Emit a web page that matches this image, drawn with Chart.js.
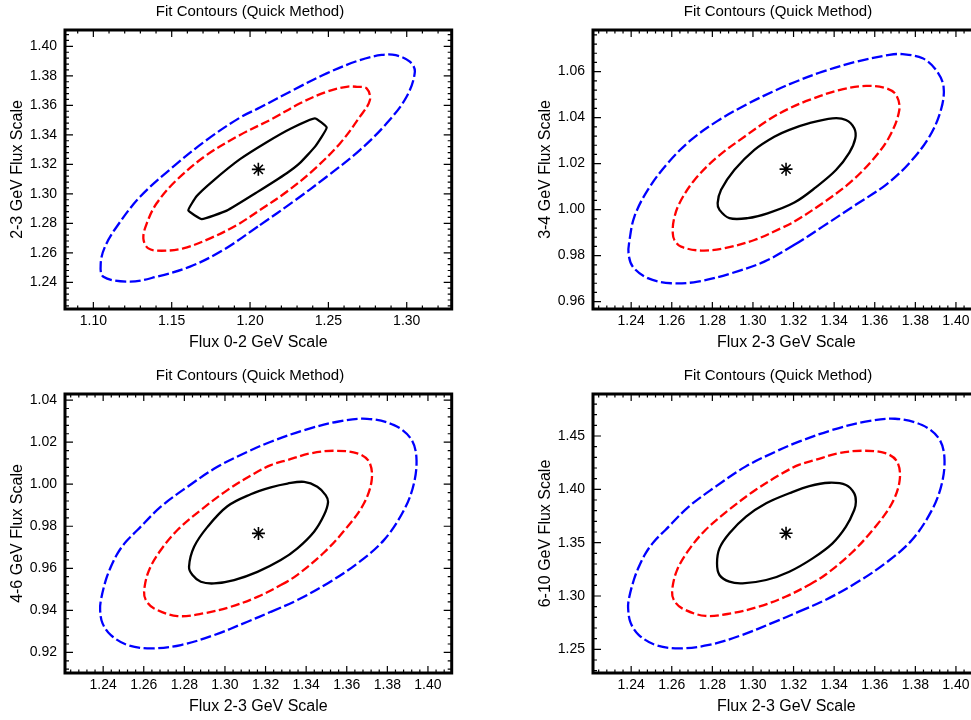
<!DOCTYPE html>
<html>
<head>
<meta charset="utf-8">
<title>Fit Contours (Quick Method)</title>
<script src="https://cdn.jsdelivr.net/npm/chart.js@4.4.1/dist/chart.umd.min.js"></script>
<style>
  html, body { margin: 0; padding: 0; background: #fff; overflow: hidden; width: 971px; height: 720px; }
  body { position: relative; }
  canvas.pad { position: absolute; }
</style>
</head>
<body>
<canvas id="pad1" class="pad" width="500" height="364" style="left:0px;top:0px"></canvas>
<canvas id="pad2" class="pad" width="500" height="364" style="left:528px;top:0px"></canvas>
<canvas id="pad3" class="pad" width="500" height="364" style="left:0px;top:364px"></canvas>
<canvas id="pad4" class="pad" width="500" height="364" style="left:528px;top:364px"></canvas>
<script>
const FONT = "'Liberation Sans', Arial, Helvetica, sans-serif";
const plotTitle = 'Fit Contours (Quick Method)';

// ---- Pad 1: 2-3 GeV vs 0-2 GeV ----
const p1XTitle = 'Flux 0-2 GeV Scale';
const p1YTitle = '2-3 GeV Flux Scale';
const p1XRange = [1.0819, 1.3287];
const p1YRange = [1.2219, 1.4111];
const p1XTicks = [1.10, 1.15, 1.20, 1.25, 1.30];
const p1YTicks = [1.24, 1.26, 1.28, 1.30, 1.32, 1.34, 1.36, 1.38, 1.40];
const p1Best = [1.2053, 1.3166];
const p1BlueX = [1.2063, 1.2276, 1.2489, 1.2701, 1.2872, 1.2999, 1.3052, 1.3020, 1.2930, 1.2840, 1.2701, 1.2489, 1.2276, 1.2063, 1.1936, 1.1723, 1.1510, 1.1298, 1.1149, 1.1074, 1.1047, 1.1064, 1.1234, 1.1404, 1.1617, 1.1829];
const p1BlueY = [1.2788, 1.2947, 1.3116, 1.3297, 1.3478, 1.3658, 1.3828, 1.3896, 1.3940, 1.3942, 1.3907, 1.3817, 1.3704, 1.3585, 1.3517, 1.3365, 1.3184, 1.2980, 1.2777, 1.2641, 1.2529, 1.2438, 1.2404, 1.2438, 1.2506, 1.2619];
const p1RedX = [1.2063, 1.2234, 1.2404, 1.2574, 1.2701, 1.2765, 1.2744, 1.2680, 1.2616, 1.2489, 1.2319, 1.2148, 1.1936, 1.1723, 1.1532, 1.1404, 1.1341, 1.1319, 1.1351, 1.1436, 1.1574, 1.1745, 1.1915];
const p1RedY = [1.2890, 1.3014, 1.3161, 1.3342, 1.3523, 1.3636, 1.3715, 1.3726, 1.3726, 1.3692, 1.3614, 1.3512, 1.3399, 1.3263, 1.3094, 1.2936, 1.2800, 1.2698, 1.2630, 1.2614, 1.2630, 1.2698, 1.2788];
const p1BlackX = [1.1692, 1.1851, 1.2043, 1.2234, 1.2319, 1.2415, 1.2489, 1.2414, 1.2255, 1.2106, 1.1936, 1.1766, 1.1660, 1.1606];
const p1BlackY = [1.2829, 1.2886, 1.3010, 1.3140, 1.3210, 1.3320, 1.3449, 1.3512, 1.3440, 1.3350, 1.3235, 1.3090, 1.2985, 1.2888];

// ---- Pad 2: 3-4 GeV vs 2-3 GeV ----
const p2XTitle = 'Flux 2-3 GeV Scale';
const p2YTitle = '3-4 GeV Flux Scale';
const p2XRange = [1.2212, 1.4117];
const p2YRange = [0.9568, 1.0781];
const p2XTicks = [1.24, 1.26, 1.28, 1.30, 1.32, 1.34, 1.36, 1.38, 1.40];
const p2YTicks = [0.96, 0.98, 1.00, 1.02, 1.04, 1.06];
const p2Best = [1.3163, 1.0176];
const p2BlueX = [1.3204, 1.3343, 1.3508, 1.3655, 1.3770, 1.3869, 1.3926, 1.3939, 1.3902, 1.3836, 1.3737, 1.3672, 1.3508, 1.3343, 1.3204, 1.3105, 1.2974, 1.2826, 1.2695, 1.2580, 1.2482, 1.2416, 1.2392, 1.2387, 1.2408, 1.2482, 1.2597, 1.2728, 1.2892, 1.3056];
const p2BlueY = [0.9847, 0.9926, 1.0022, 1.0108, 1.0202, 1.0317, 1.0433, 1.0535, 1.0607, 1.0658, 1.0676, 1.0673, 1.0643, 1.0600, 1.0554, 1.0516, 1.0460, 1.0386, 1.0303, 1.0202, 1.0086, 0.9970, 0.9868, 0.9810, 0.9752, 0.9702, 0.9680, 0.9687, 0.9723, 0.9774];
const p2RedX = [1.3204, 1.3343, 1.3475, 1.3589, 1.3672, 1.3721, 1.3705, 1.3655, 1.3557, 1.3425, 1.3278, 1.3179, 1.3089, 1.2958, 1.2826, 1.2712, 1.2638, 1.2610, 1.2605, 1.2613, 1.2646, 1.2745, 1.2859, 1.3007, 1.3138];
const p2RedY = [0.9948, 1.0028, 1.0115, 1.0216, 1.0317, 1.0433, 1.0499, 1.0528, 1.0538, 1.0520, 1.0477, 1.0440, 1.0397, 1.0317, 1.0230, 1.0129, 1.0028, 0.9955, 0.9897, 0.9868, 0.9839, 0.9822, 0.9832, 0.9868, 0.9919];
const p2BlackX = [1.3204, 1.3311, 1.3409, 1.3475, 1.3504, 1.3499, 1.3458, 1.3392, 1.3278, 1.3179, 1.3105, 1.3007, 1.2909, 1.2843, 1.2826, 1.2835, 1.2884, 1.2974, 1.3072];
const p2BlackY = [1.0031, 1.0098, 1.0172, 1.0248, 1.0309, 1.0354, 1.0390, 1.0397, 1.0376, 1.0347, 1.0317, 1.0260, 1.0173, 1.0086, 1.0028, 0.9999, 0.9963, 0.9963, 0.9984];

// ---- Pad 3: 4-6 GeV vs 2-3 GeV ----
const p3XTitle = 'Flux 2-3 GeV Scale';
const p3YTitle = '4-6 GeV Flux Scale';
const p3XRange = [1.2212, 1.4117];
const p3YRange = [0.9102, 1.0429];
const p3XTicks = [1.24, 1.26, 1.28, 1.30, 1.32, 1.34, 1.36, 1.38, 1.40];
const p3YTicks = [0.92, 0.94, 0.96, 0.98, 1.00, 1.02, 1.04];
const p3Best = [1.3165, 0.9766];
const p3BlueX = [1.3226, 1.3357, 1.3505, 1.3652, 1.3783, 1.3882, 1.3931, 1.3943, 1.3915, 1.3833, 1.3700, 1.3554, 1.3390, 1.3226, 1.3111, 1.2963, 1.2816, 1.2684, 1.2569, 1.2512, 1.2471, 1.2438, 1.2413, 1.2389, 1.2385, 1.2397, 1.2438, 1.2520, 1.2635, 1.2783, 1.2946, 1.3111];
const p3BlueY = [0.9393, 0.9449, 0.9528, 0.9623, 0.9734, 0.9877, 1.0004, 1.0130, 1.0218, 1.0281, 1.0311, 1.0297, 1.0257, 1.0202, 1.0154, 1.0083, 0.9988, 0.9893, 0.9782, 0.9726, 0.9671, 0.9607, 0.9544, 0.9449, 0.9401, 0.9338, 0.9282, 0.9235, 0.9219, 0.9235, 0.9282, 0.9346];
const p3RedX = [1.3275, 1.3357, 1.3488, 1.3603, 1.3685, 1.3723, 1.3710, 1.3652, 1.3537, 1.3423, 1.3308, 1.3226, 1.3143, 1.3012, 1.2881, 1.2766, 1.2684, 1.2626, 1.2602, 1.2610, 1.2651, 1.2766, 1.2897, 1.3029, 1.3160];
const p3RedY = [0.9520, 0.9569, 0.9675, 0.9797, 0.9909, 1.0020, 1.0107, 1.0147, 1.0159, 1.0147, 1.0115, 1.0091, 1.0050, 0.9972, 0.9877, 0.9782, 0.9687, 0.9591, 0.9496, 0.9449, 0.9409, 0.9373, 0.9386, 0.9417, 0.9464];
const p3BlackX = [1.3275, 1.3357, 1.3439, 1.3488, 1.3508, 1.3496, 1.3455, 1.3390, 1.3308, 1.3226, 1.3127, 1.3012, 1.2914, 1.2848, 1.2823, 1.2840, 1.2881, 1.2946, 1.3045, 1.3160];
const p3BlackY = [0.9639, 0.9695, 0.9774, 0.9853, 0.9916, 0.9948, 0.9988, 1.0011, 1.0003, 0.9985, 0.9952, 0.9895, 0.9797, 0.9702, 0.9607, 0.9568, 0.9536, 0.9528, 0.9544, 0.9583];

// ---- Pad 4: 6-10 GeV vs 2-3 GeV ----
const p4XTitle = 'Flux 2-3 GeV Scale';
const p4YTitle = '6-10 GeV Flux Scale';
const p4XRange = [1.2212, 1.4117];
const p4YRange = [1.2278, 1.4894];
const p4XTicks = [1.24, 1.26, 1.28, 1.30, 1.32, 1.34, 1.36, 1.38, 1.40];
const p4YTicks = [1.25, 1.30, 1.35, 1.40, 1.45];
const p4Best = [1.3163, 1.3588];
const p4BlueX = [1.3226, 1.3357, 1.3505, 1.3652, 1.3783, 1.3882, 1.3931, 1.3943, 1.3915, 1.3833, 1.3700, 1.3554, 1.3390, 1.3226, 1.3111, 1.2963, 1.2816, 1.2684, 1.2569, 1.2512, 1.2471, 1.2438, 1.2413, 1.2389, 1.2385, 1.2397, 1.2438, 1.2520, 1.2635, 1.2783, 1.2946, 1.3111];
const p4BlueY = [1.2853, 1.2963, 1.3119, 1.3306, 1.3525, 1.3807, 1.4057, 1.4305, 1.4479, 1.4603, 1.4662, 1.4634, 1.4556, 1.4447, 1.4353, 1.4213, 1.4025, 1.3838, 1.3619, 1.3509, 1.3400, 1.3274, 1.3150, 1.2975, 1.2885, 1.2750, 1.2634, 1.2541, 1.2509, 1.2541, 1.2634, 1.2760];
const p4RedX = [1.3275, 1.3357, 1.3488, 1.3603, 1.3685, 1.3723, 1.3710, 1.3652, 1.3537, 1.3423, 1.3308, 1.3226, 1.3143, 1.3012, 1.2881, 1.2766, 1.2684, 1.2626, 1.2602, 1.2610, 1.2651, 1.2766, 1.2897, 1.3029, 1.3160];
const p4RedY = [1.3103, 1.3199, 1.3408, 1.3649, 1.3870, 1.4088, 1.4260, 1.4339, 1.4362, 1.4339, 1.4276, 1.4229, 1.4148, 1.3994, 1.3807, 1.3619, 1.3432, 1.3243, 1.3056, 1.2963, 1.2884, 1.2813, 1.2839, 1.2900, 1.2993];
const p4BlackX = [1.3179, 1.3294, 1.3392, 1.3458, 1.3499, 1.3507, 1.3499, 1.3458, 1.3376, 1.3278, 1.3179, 1.3065, 1.2966, 1.2884, 1.2835, 1.2823, 1.2835, 1.2884, 1.2949, 1.3065];
const p4BlackY = [1.3228, 1.3353, 1.3494, 1.3650, 1.3806, 1.3884, 1.3963, 1.4041, 1.4062, 1.4031, 1.3963, 1.3869, 1.3744, 1.3588, 1.3447, 1.3307, 1.3197, 1.3134, 1.3119, 1.3150];

// Turn x/y lists into a closed loop. One extra point is wrapped on each
// end so the spline has neighbours everywhere; those two end segments are hidden.
function loop(xs, ys) {
  const pts = xs.map((x, i) => ({ x: x, y: ys[i] }));
  return [pts[pts.length - 1], ...pts, pts[0], pts[1]];
}

// Major ticks come from the lists, minor ticks split each step in five
function tickMarks(scale, majors) {
  const step = (majors[1] - majors[0]) / 5;
  const marks = [];
  let n = Math.ceil((scale.min - majors[0]) / step - 1e-6);
  for (;;) {
    const v = majors[0] + n * step;
    if (v > scale.max + 1e-9) break;
    marks.push({ value: v, major: Math.abs(n % 5) === 0 });
    n++;
  }
  return marks;
}

// Frame with inward ticks on all four sides, like a ROOT pad
const frameTicks = {
  id: 'frameTicks',
  afterDatasetsDraw(chart, args, opts) {
    const { ctx, chartArea: a } = chart;
    const xs = chart.scales.x;
    const ys = chart.scales.y;
    ctx.save();
    ctx.strokeStyle = '#000';
    ctx.lineWidth = 1.2;
    ctx.beginPath();
    tickMarks(xs, opts.xMajor).forEach(m => {
      const px = xs.getPixelForValue(m.value);
      const len = m.major ? 7 : 3.5;
      ctx.moveTo(px, a.bottom); ctx.lineTo(px, a.bottom - len);
      ctx.moveTo(px, a.top); ctx.lineTo(px, a.top + len);
    });
    tickMarks(ys, opts.yMajor).forEach(m => {
      const py = ys.getPixelForValue(m.value);
      const len = m.major ? 8 : 4;
      ctx.moveTo(a.left, py); ctx.lineTo(a.left + len, py);
      ctx.moveTo(a.right, py); ctx.lineTo(a.right - len, py);
    });
    ctx.stroke();
    ctx.lineWidth = 3;
    ctx.strokeRect(a.left, a.top, a.right - a.left, a.bottom - a.top);
    ctx.restore();
  }
};

function contour(pts, color, dash, tension) {
  const last = pts.length - 1;
  return {
    data: pts,
    showLine: true,
    borderColor: color,
    backgroundColor: color,
    borderWidth: 2.3,
    borderDash: dash,
    borderCapStyle: 'butt',
    borderJoinStyle: 'round',
    pointRadius: 0,
    tension: tension,
    fill: false,
    segment: {
      borderColor: c => (c.p0DataIndex === 0 || c.p1DataIndex === last) ? 'rgba(0,0,0,0)' : undefined
    }
  };
}

function makePad(id, p) {
  const ctx = document.getElementById(id).getContext('2d');
  return new Chart(ctx, {
    type: 'scatter',
    data: {
      datasets: [
        contour(loop(p.blueX, p.blueY), '#0000ff', [11, 3.5], 0.35),
        contour(loop(p.redX, p.redY), '#ff0000', [9, 3.5], 0.35),
        contour(loop(p.blackX, p.blackY), '#000000', [], p.blackTension),
        {
          data: [{ x: p.best[0], y: p.best[1] }],
          pointStyle: 'star',
          pointRadius: 6.5,
          borderColor: '#000',
          borderWidth: 1.6,
          showLine: false
        }
      ]
    },
    options: {
      responsive: false,
      animation: false,
      events: [],
      layout: { padding: 0 },
      plugins: {
        legend: { display: false },
        tooltip: { enabled: false },
        title: {
          display: true,
          text: plotTitle,
          color: '#000',
          font: { family: FONT, size: 15, weight: 'normal' },
          padding: { top: 3, bottom: 9 }
        },
        frameTicks: { xMajor: p.xTicks, yMajor: p.yTicks }
      },
      scales: {
        x: {
          type: 'linear',
          min: p.xRange[0],
          max: p.xRange[1],
          grid: { display: false, drawTicks: false },
          border: { display: false },
          afterBuildTicks: s => { s.ticks = p.xTicks.map(v => ({ value: v })); },
          afterFit: s => { s.height = 55; },
          ticks: {
            autoSkip: false, maxRotation: 0, minRotation: 0, padding: 4, color: '#000',
            font: { family: FONT, size: 14 },
            callback: v => Number(v).toFixed(2)
          },
          title: {
            display: true, text: p.xTitle, color: '#000',
            font: { family: FONT, size: 16 },
            padding: { top: 0, bottom: 11.7 }
          }
        },
        y: {
          type: 'linear',
          position: 'left',
          min: p.yRange[0],
          max: p.yRange[1],
          grid: { display: false, drawTicks: false },
          border: { display: false },
          afterBuildTicks: s => { s.ticks = p.yTicks.map(v => ({ value: v })); },
          afterFit: s => { s.width = 65; },
          ticks: {
            autoSkip: false, padding: 8, color: '#000',
            font: { family: FONT, size: 14 },
            callback: v => Number(v).toFixed(2)
          },
          title: {
            display: true, text: p.yTitle, color: '#000',
            font: { family: FONT, size: 16 },
            padding: { top: 8, bottom: 0 }
          }
        },
        // empty right-hand box so the pad title centres on the whole pad
        yr: {
          type: 'linear',
          position: 'right',
          grid: { display: false, drawTicks: false },
          border: { display: false },
          ticks: { display: false },
          afterFit: s => { s.width = 48.3; }
        }
      }
    },
    plugins: [frameTicks]
  });
}

makePad('pad1', {
  xTitle: p1XTitle, yTitle: p1YTitle, xRange: p1XRange, yRange: p1YRange,
  xTicks: p1XTicks, yTicks: p1YTicks, best: p1Best,
  blueX: p1BlueX, blueY: p1BlueY, redX: p1RedX, redY: p1RedY,
  blackX: p1BlackX, blackY: p1BlackY, blackTension: 0.12
});
makePad('pad2', {
  xTitle: p2XTitle, yTitle: p2YTitle, xRange: p2XRange, yRange: p2YRange,
  xTicks: p2XTicks, yTicks: p2YTicks, best: p2Best,
  blueX: p2BlueX, blueY: p2BlueY, redX: p2RedX, redY: p2RedY,
  blackX: p2BlackX, blackY: p2BlackY, blackTension: 0.35
});
makePad('pad3', {
  xTitle: p3XTitle, yTitle: p3YTitle, xRange: p3XRange, yRange: p3YRange,
  xTicks: p3XTicks, yTicks: p3YTicks, best: p3Best,
  blueX: p3BlueX, blueY: p3BlueY, redX: p3RedX, redY: p3RedY,
  blackX: p3BlackX, blackY: p3BlackY, blackTension: 0.35
});
makePad('pad4', {
  xTitle: p4XTitle, yTitle: p4YTitle, xRange: p4XRange, yRange: p4YRange,
  xTicks: p4XTicks, yTicks: p4YTicks, best: p4Best,
  blueX: p4BlueX, blueY: p4BlueY, redX: p4RedX, redY: p4RedY,
  blackX: p4BlackX, blackY: p4BlackY, blackTension: 0.35
});
</script>
</body>
</html>
